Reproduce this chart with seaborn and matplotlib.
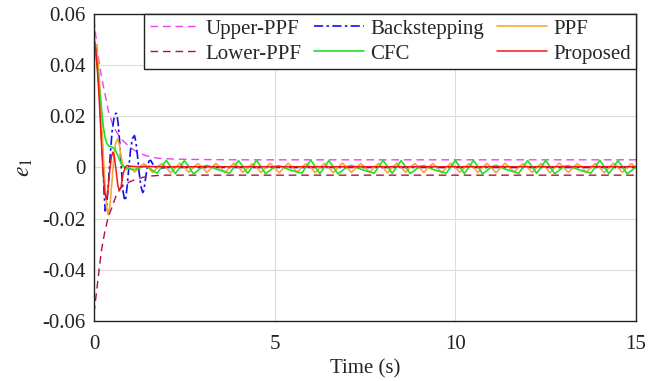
import numpy as np
import pandas as pd
import matplotlib
matplotlib.use("Agg")
import matplotlib.pyplot as plt
import seaborn as sns

# ---------------- data ----------------
# prescribed performance bounds
t_bound = [0.0, 0.1, 0.2, 0.3, 0.4, 0.5, 0.6, 0.7, 0.8, 1.0, 1.2, 1.4, 1.6, 1.8, 2.0, 2.5, 3.0, 4.0, 15.0]
upper_ppf = [0.058, 0.045, 0.036, 0.029, 0.022, 0.0175, 0.0145, 0.0122, 0.0105, 0.0078, 0.006, 0.0048,
             0.0040, 0.0036, 0.0034, 0.0032, 0.0031, 0.0030, 0.0030]
lower_ppf = [-0.057, -0.045, -0.033, -0.025, -0.019, -0.0155, -0.0115, -0.0088, -0.0072, -0.0055, -0.0044,
             -0.0037, -0.0033, -0.0031, -0.0030, -0.0030, -0.0030, -0.0030, -0.0030]

# backstepping controller
t_bs = [0.0, 0.05, 0.1, 0.15, 0.2, 0.25, 0.28, 0.31, 0.35, 0.4, 0.45, 0.5, 0.55, 0.6, 0.63, 0.67, 0.71,
        0.75, 0.8, 0.85, 0.88, 0.92, 0.97, 1.02, 1.07, 1.12, 1.16, 1.2, 1.25, 1.3, 1.35, 1.38, 1.42, 1.47,
        1.52, 1.57, 1.62, 1.7, 1.8, 2.0, 15.0]
e_bs = [0.050, 0.046, 0.040, 0.030, 0.017, 0.002, -0.010, -0.017, -0.015, -0.006, 0.005, 0.014, 0.019,
        0.0212, 0.021, 0.017, 0.010, 0.001, -0.009, -0.013, -0.012, -0.007, 0.001, 0.008, 0.0115, 0.0125,
        0.010, 0.005, -0.002, -0.0075, -0.0098, -0.009, -0.005, 0.0, 0.0025, 0.0028, 0.0015, 0.0,
        -0.0003, 0.0, 0.0]

# sample times of the steady part
t_tail = np.arange(1.0, 15.0001, 0.125)

# CFC
t_cfc_head = [0.0, 0.05, 0.1, 0.15, 0.2, 0.25, 0.3, 0.35, 0.4, 0.45, 0.5, 0.55, 0.6, 0.65, 0.7, 0.75, 0.8, 0.875]
e_cfc_head = [0.050, 0.045, 0.038, 0.031, 0.024, 0.017, 0.012, 0.0095, 0.0085, 0.0082, 0.0080, 0.0075,
              0.0065, 0.0050, 0.0032, 0.0015, 0.0005, 0.0]
e_cfc_tail = [
    -0.0006, -0.0008, -0.0002, 0.0004, 0.0002, -0.0012,
    -0.0022, 0.0003, 0.0028, 0.0002, -0.0024, 0.0001, 0.0027, 0.0003,
    -0.0025, -0.0012, 0.0003, 0.0008, 0.0002, -0.0006, -0.0012, -0.0016,
    -0.0023, 0.0002, 0.0027, 0.0003, -0.0023, 0.0002, 0.0028, 0.0002,
    -0.0024, -0.0011, 0.0004, 0.0007, 0.0001, -0.0007, -0.0013, -0.0017,
    -0.0022, 0.0003, 0.0029, 0.0002, -0.0024, 0.0001, 0.0027, 0.0002,
    -0.0025, -0.0012, 0.0003, 0.0008, 0.0002, -0.0006, -0.0012, -0.0016,
    -0.0023, 0.0002, 0.0028, 0.0003, -0.0023, 0.0002, 0.0027, 0.0002,
    -0.0024, -0.0011, 0.0004, 0.0007, 0.0001, -0.0007, -0.0013, -0.0017,
    -0.0022, 0.0003, 0.0028, 0.0002, -0.0024, 0.0001, 0.0028, 0.0003,
    -0.0025, -0.0012, 0.0003, 0.0008, 0.0002, -0.0006, -0.0012, -0.0016,
    -0.0023, 0.0002, 0.0027, 0.0003, -0.0023, 0.0002, 0.0028, 0.0002,
    -0.0024, -0.0011, 0.0004, 0.0007, 0.0001, -0.0007, -0.0013, -0.0017,
    -0.0022, 0.0003, 0.0028, 0.0002, -0.0024, 0.0001, 0.0027, 0.0003,
    -0.0025, -0.0012, 0.0002,
]

# PPF controller
t_ppf_head = [0.0, 0.05, 0.1, 0.15, 0.2, 0.25, 0.3, 0.35, 0.39, 0.44, 0.5, 0.55, 0.6, 0.65, 0.7, 0.75, 0.8, 0.875]
e_ppf_head = [0.050, 0.048, 0.043, 0.034, 0.021, 0.007, -0.006, -0.015, -0.0185, -0.015, -0.005, 0.004,
              0.0095, 0.0112, 0.009, 0.004, 0.0012, -0.0008]
e_ppf_tail = [
    0.0000, -0.0018, -0.0001, 0.0015, 0.0001, -0.0020, 0.0000, 0.0016,
    -0.0001, -0.0021, -0.0002, 0.0017, 0.0000, -0.0019, 0.0001, 0.0015,
    0.0001, -0.0020, -0.0001, 0.0016, -0.0001, -0.0021, 0.0000, 0.0017,
    0.0000, -0.0019, -0.0002, 0.0015, 0.0001, -0.0020, 0.0000, 0.0016,
    -0.0001, -0.0021, -0.0001, 0.0017, 0.0000, -0.0019, 0.0001, 0.0015,
    0.0001, -0.0020, -0.0001, 0.0016, -0.0001, -0.0021, 0.0000, 0.0017,
    0.0000, -0.0019, -0.0002, 0.0015, 0.0001, -0.0020, 0.0000, 0.0016,
    -0.0001, -0.0021, -0.0001, 0.0017, 0.0000, -0.0019, 0.0001, 0.0015,
    0.0001, -0.0020, -0.0001, 0.0016, -0.0001, -0.0021, 0.0000, 0.0017,
    0.0000, -0.0019, -0.0002, 0.0015, 0.0001, -0.0020, 0.0000, 0.0016,
    -0.0001, -0.0021, -0.0001, 0.0017, 0.0000, -0.0019, 0.0001, 0.0015,
    0.0001, -0.0020, -0.0001, 0.0016, -0.0001, -0.0021, 0.0000, 0.0017,
    0.0000, -0.0019, -0.0002, 0.0015, 0.0001, -0.0020, 0.0000, 0.0016,
    -0.0001, -0.0021, -0.0001, 0.0017, 0.0000, -0.0019, 0.0001, 0.0015,
    0.0000,
]

# proposed controller
t_prop = [0.0, 0.05, 0.1, 0.15, 0.2, 0.25, 0.3, 0.34, 0.38, 0.43, 0.48, 0.52, 0.56, 0.61, 0.66, 0.7,
          0.75, 0.8, 0.86, 0.92, 1.0, 1.2, 1.5, 2.0, 15.0]
e_prop = [0.050, 0.046, 0.037, 0.025, 0.011, -0.002, -0.010, -0.0125, -0.010, -0.002, 0.004, 0.006,
          0.0045, -0.001, -0.007, -0.009, -0.0075, -0.003, 0.0, 0.0008, 0.0005, 0.0003, 0.0004, 0.0003, 0.0003]

yticks = [-0.06, -0.04, -0.02, 0.0, 0.02, 0.04, 0.06]
ytick_labels = ["-0.06", "-0.04", "-0.02", "0", "0.02", "0.04", "0.06"]
xticks = [0, 5, 10, 15]
xtick_labels = ["0", "5", "10", "15"]

# ---------------- style ----------------
sns.set_style("whitegrid")
plt.rcParams["font.family"] = ["Liberation Serif", "DejaVu Serif"]
plt.rcParams["mathtext.fontset"] = "stix"
plt.rcParams["axes.unicode_minus"] = False

fig = plt.figure(figsize=(6.61, 3.81), dpi=100)
ax = fig.add_axes([0.1422, 0.1575, 0.8200, 0.8058])

series = {
    "Upper-PPF": (t_bound, upper_ppf, "#F040F0", (0, (5.5, 3.5)), 1.0),
    "Backstepping": (t_bs, e_bs, "#1010F0", (0, (5.5, 2.0, 1.5, 2.0)), 1.2),
    "PPF": (np.concatenate([t_ppf_head, t_tail]), np.concatenate([e_ppf_head, e_ppf_tail]),
            "#F2A93B", "-", 1.2),
    "Lower-PPF": (t_bound, lower_ppf, "#B0123F", (0, (5.5, 3.5)), 1.0),
    "CFC": (np.concatenate([t_cfc_head, t_tail]), np.concatenate([e_cfc_head, e_cfc_tail]),
            "#22E022", "-", 1.2),
    "Proposed": (t_prop, e_prop, "#F01818", "-", 1.1),
}

handles = {}
for name, (tx, ey, color, ls, lw) in series.items():
    df = pd.DataFrame({"t": tx, "e": ey})
    sns.lineplot(data=df, x="t", y="e", ax=ax, color=color, linewidth=lw,
                 linestyle=ls, estimator=None, sort=False, errorbar=None)
    handles[name] = ax.lines[-1]

ax.set_xlim(0, 15)
ax.set_ylim(-0.06, 0.06)
ax.set_xticks(xticks)
ax.set_xticklabels(xtick_labels)
ax.set_yticks(yticks)
ax.set_yticklabels(ytick_labels)
ax.tick_params(axis="both", labelsize=15, length=0, colors="#222222")
ax.tick_params(axis="x", pad=10)
ax.tick_params(axis="y", pad=6)
ax.grid(True, color="#DCDCDC", linewidth=0.8)
for sp in ax.spines.values():
    sp.set_color("#222222")
    sp.set_linewidth(1.0)

ax.set_xlabel("Time (s)", fontsize=15, labelpad=4)
ax.set_ylabel(r"$e_1$", fontsize=17, labelpad=5)

order = ["Upper-PPF", "Lower-PPF", "Backstepping", "CFC", "PPF", "Proposed"]
leg = ax.legend([handles[k] for k in order], order, loc="upper right", ncol=3,
                fontsize=15, frameon=True, fancybox=False, framealpha=1,
                edgecolor="#222222", borderaxespad=0, borderpad=0.25,
                handlelength=2.4, handletextpad=0.3, columnspacing=0.6,
                labelspacing=0.25)
leg.get_frame().set_linewidth(1.0)

fig.savefig("out.png", dpi=100)
